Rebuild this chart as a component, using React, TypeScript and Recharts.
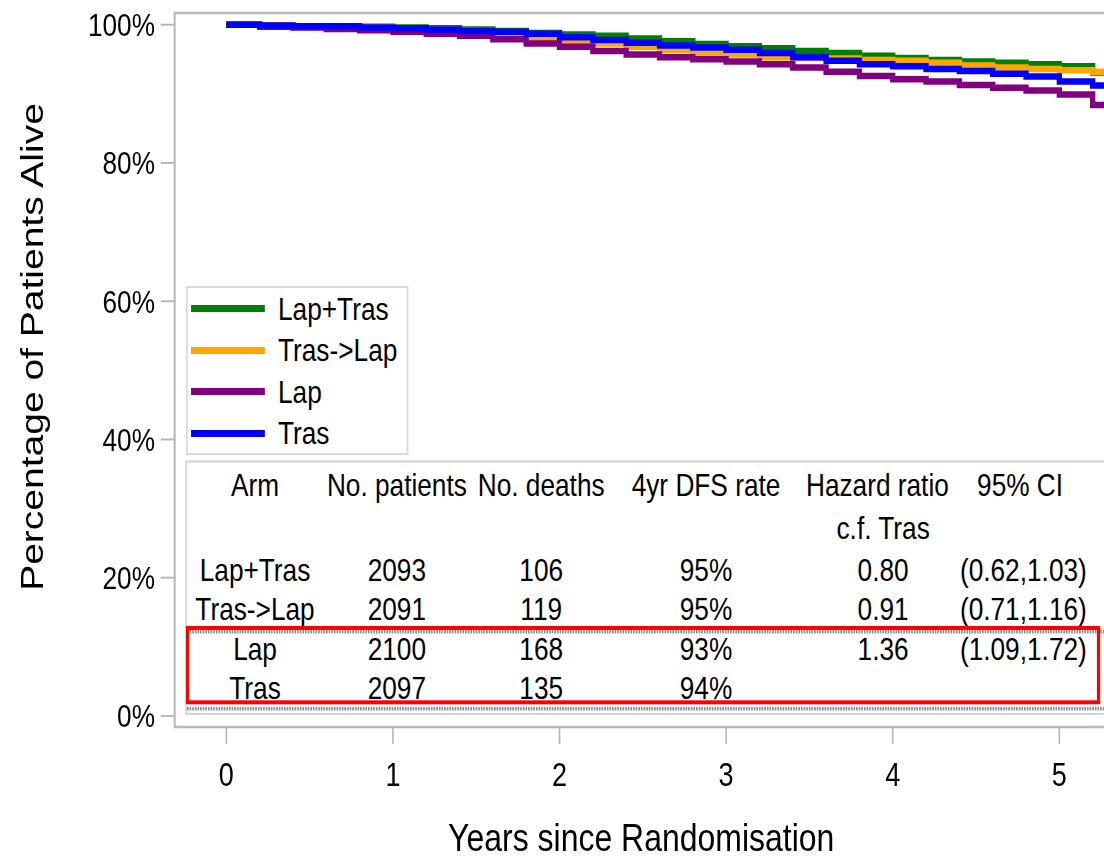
import { Legend, Line, LineChart, ReferenceArea, XAxis, YAxis } from "recharts";

// The whole figure is laid out in unsquashed units and narrowed with scaleX,
// which gives the condensed lettering of the original SAS output.
const SX = 0.82;
const W = 1380;
const H = 860;

const years = [
  0, 0.2, 0.4, 0.6, 0.8, 1.0, 1.2, 1.4, 1.6, 1.8, 2.0, 2.2, 2.4, 2.6, 2.8, 3.0, 3.2, 3.4, 3.6, 3.8, 4.0,
  4.2, 4.4, 4.6, 4.8, 5.0, 5.2, 5.35,
];
const lapTras = [
  100, 99.9, 99.8, 99.8, 99.7, 99.6, 99.5, 99.3, 99.1, 98.8, 98.6, 98.4, 98.0, 97.6, 97.2, 96.9, 96.6,
  96.2, 95.9, 95.5, 95.2, 94.9, 94.7, 94.5, 94.3, 94.0, 93.1, 93.1,
];
const trasLap = [
  100, 99.9, 99.8, 99.7, 99.6, 99.5, 99.3, 99.1, 98.6, 98.0, 97.6, 97.3, 96.8, 96.4, 96.0, 95.7, 95.3,
  95.2, 95.1, 94.9, 94.8, 94.5, 94.1, 93.8, 93.6, 93.4, 93.2, 93.2,
];
const lap = [
  100, 99.7, 99.6, 99.4, 99.2, 99.0, 98.7, 98.4, 97.9, 97.3, 96.8, 96.2, 95.7, 95.3, 95.0, 94.7, 94.3,
  93.8, 93.2, 92.6, 92.1, 91.8, 91.3, 90.9, 90.5, 89.9, 88.4, 88.4,
];
const tras = [
  100, 99.9, 99.8, 99.8, 99.6, 99.5, 99.3, 99.1, 99.0, 98.7, 98.2, 97.8, 97.4, 97.0, 96.7, 96.4, 95.9,
  95.3, 94.8, 94.3, 94.0, 93.6, 93.3, 92.9, 92.5, 91.8, 91.2, 91.2,
];

const xTicks = [0, 1, 2, 3, 4, 5];
const yTicks = [0, 20, 40, 60, 80, 100];
const X_DOMAIN: [number, number] = [-0.31, 5.35];
const Y_DOMAIN: [number, number] = [-1.6, 101.7];

// summary table
const arms = ["Lap+Tras", "Tras->Lap", "Lap", "Tras"];
const nPatients = [2093, 2091, 2100, 2097];
const nDeaths = [106, 119, 168, 135];
const dfsRate = [95, 95, 93, 94];
const hazardRatio = [0.8, 0.91, 1.36, null];
const ciLow = [0.62, 0.71, 1.09, null];
const ciHigh = [1.03, 1.16, 1.72, null];

const series = [
  { key: "lapTras", name: "Lap+Tras", color: "#008000" },
  { key: "trasLap", name: "Tras->Lap", color: "#FFA500" },
  { key: "lap", name: "Lap", color: "#800080" },
  { key: "tras", name: "Tras", color: "#0000FF" },
];

const rows = years.map((t, i) => ({
  t,
  lapTras: lapTras[i],
  trasLap: trasLap[i],
  lap: lap[i],
  tras: tras[i],
}));

const FRAME = "#b8b8b8";

function YTitle({ viewBox }: { viewBox?: { x: number; y: number; width: number; height: number } }) {
  if (!viewBox) return null;
  const cx = viewBox.x + 52;
  const cy = viewBox.y + viewBox.height / 2 - 23;
  return (
    <text x={cx} y={cy} transform={`rotate(-90, ${cx}, ${cy})`} textAnchor="middle" fontSize={39} fill="#000">
      Percentage of Patients Alive
    </text>
  );
}

function XTitle({ viewBox }: { viewBox?: { x: number; y: number; width: number; height: number } }) {
  if (!viewBox) return null;
  return (
    <text x={viewBox.x + viewBox.width / 2 - 6} y={viewBox.y + 124} textAnchor="middle" fontSize={39} fill="#000">
      Years since Randomisation
    </text>
  );
}

// legend keeps the series order (Recharts sorts its payload by name)
function LegendBox({ payload }: { payload?: { value: string; color: string }[] }) {
  const items = [...(payload ?? [])].sort(
    (a, b) => series.findIndex((s) => s.name === a.value) - series.findIndex((s) => s.name === b.value),
  );
  return (
    <div
      style={{
        width: 271,
        height: 169,
        boxSizing: "border-box",
        border: "2px solid #d9d9d9",
        background: "#fff",
      }}
    >
      {items.map((p) => (
        <div key={p.value} style={{ display: "flex", alignItems: "center", height: 41.5 }}>
          <span style={{ display: "block", width: 90, height: 7, background: p.color, marginLeft: 4 }} />
          <span style={{ marginLeft: 16, fontSize: 32, lineHeight: 1, color: "#000" }}>{p.value}</span>
        </div>
      ))}
    </div>
  );
}

// column centres and baselines of the results table
const colX = { arm: 311, pts: 484, deaths: 660, dfs: 861, hr: 1070, hrVal: 1077, ci: 1244, ciVal: 1248 };
const rowY = [581, 620.5, 660.5, 699.5];

function SummaryTable() {
  return (
    <svg width={W} height={H} style={{ position: "absolute", left: 0, top: 0, pointerEvents: "none" }}>
      <rect x={227} y={461.5} width={1160} height={252.5} fill="#fff" stroke="#d4d4d4" strokeWidth={2} />
      <g fontSize={32} fill="#000" textAnchor="middle">
        <text x={colX.arm} y={496.5}>Arm</text>
        <text x={colX.pts} y={496.5}>No. patients</text>
        <text x={colX.deaths} y={496.5}>No. deaths</text>
        <text x={colX.dfs} y={496.5}>4yr DFS rate</text>
        <text x={colX.hr} y={496.5}>Hazard ratio</text>
        <text x={colX.hrVal} y={539}>c.f. Tras</text>
        <text x={colX.ci} y={496.5}>95% CI</text>
        {arms.map((a, i) => (
          <g key={a}>
            <text x={colX.arm} y={rowY[i]}>{a}</text>
            <text x={colX.pts} y={rowY[i]}>{nPatients[i]}</text>
            <text x={colX.deaths} y={rowY[i]}>{nDeaths[i]}</text>
            <text x={colX.dfs} y={rowY[i]}>{dfsRate[i]}%</text>
            {hazardRatio[i] !== null && (
              <text x={colX.hrVal} y={rowY[i]}>{(hazardRatio[i] as number).toFixed(2)}</text>
            )}
            {ciLow[i] !== null && (
              <text x={colX.ciVal} y={rowY[i]}>
                ({(ciLow[i] as number).toFixed(2)},{(ciHigh[i] as number).toFixed(2)})
              </text>
            )}
          </g>
        ))}
      </g>
      {/* shaded separators around the Lap / Tras rows */}
      <line x1={228} x2={W} y1={631.7} y2={631.7} stroke="#8c8c8c" strokeWidth={3.5} strokeDasharray="2 1.2" />
      <line x1={228} x2={W} y1={708.7} y2={708.7} stroke="#8c8c8c" strokeWidth={3.5} strokeDasharray="2 1.2" />
      <rect x={228.7} y={628} width={1111} height={74.3} fill="none" stroke="#ff0000" strokeWidth={4} />
    </svg>
  );
}

export default function App() {
  return (
    <div style={{ position: "absolute", left: 0, top: 0, width: 1104, height: H, overflow: "hidden", background: "#fff" }}>
      <div
        style={{
          position: "relative",
          width: W,
          height: H,
          transform: `scaleX(${SX})`,
          transformOrigin: "0 0",
          fontFamily: "'Liberation Sans', Arial, sans-serif",
        }}
      >
        <LineChart width={W} height={H} data={rows} margin={{ top: 13, right: 17, bottom: 0, left: 0 }}>
          <XAxis
            dataKey="t"
            type="number"
            domain={X_DOMAIN}
            ticks={xTicks}
            allowDataOverflow
            axisLine={false}
            tickSize={17}
            tickMargin={19}
            tickLine={{ stroke: FRAME, strokeWidth: 2 }}
            tick={{ fill: "#000", fontSize: 33 }}
            height={133}
            label={<XTitle />}
          />
          <YAxis
            type="number"
            domain={Y_DOMAIN}
            ticks={yTicks}
            allowDataOverflow
            axisLine={false}
            width={213}
            tickSize={17}
            tickMargin={7}
            tickLine={{ stroke: FRAME, strokeWidth: 2 }}
            tick={{ fill: "#000", fontSize: 32 }}
            tickFormatter={(v: number) => `${v}%`}
            label={<YTitle />}
          />
          <ReferenceArea
            x1={X_DOMAIN[0]}
            x2={X_DOMAIN[1]}
            y1={Y_DOMAIN[0]}
            y2={Y_DOMAIN[1]}
            fill="none"
            stroke={FRAME}
            strokeWidth={2.5}
            ifOverflow="visible"
          />
          {series.map((s) => (
            <Line
              key={s.key}
              type="stepAfter"
              dataKey={s.key}
              name={s.name}
              stroke={s.color}
              strokeWidth={6.5}
              dot={false}
              activeDot={false}
              isAnimationActive={false}
            />
          ))}
          <Legend
            layout="horizontal"
            verticalAlign="middle"
            align="center"
            width={271}
            height={169}
            wrapperStyle={{ left: 227, top: 286, width: 271, height: 169 }}
            content={<LegendBox />}
          />
        </LineChart>
        <SummaryTable />
      </div>
    </div>
  );
}
